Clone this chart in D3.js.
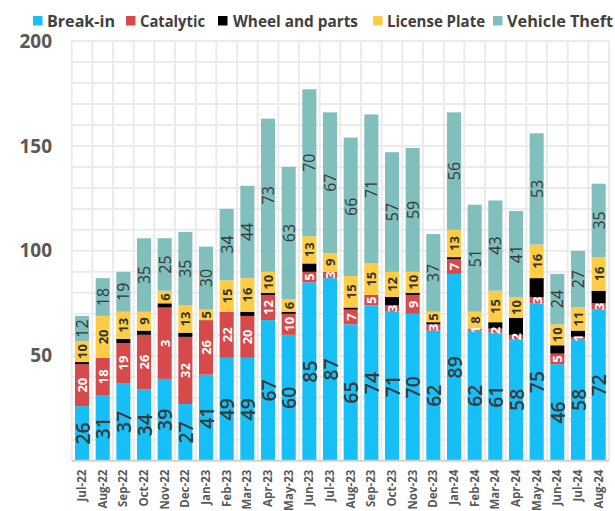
<!DOCTYPE html>
<html>
<head>
<meta charset="utf-8">
<script src="https://cdn.jsdelivr.net/npm/d3@7"></script>
<style>
  html, body { margin: 0; padding: 0; background: #fff; }
  svg { display: block; font-family: "Open Sans", "DejaVu Sans", sans-serif; }
</style>
</head>
<body>
<svg id="chart" width="615" height="511"></svg>
<script>
const months = ["Jul-22","Aug-22","Sep-22","Oct-22","Nov-22","Dec-22","Jan-23","Feb-23","Mar-23","Apr-23","May-23","Jun-23","Jul-23","Aug-23","Sep-23","Oct-23","Nov-23","Dec-23","Jan-24","Feb-24","Mar-24","Apr-24","May-24","Jun-24","Jul-24","Aug-24"];
const breakIn   = [26,31,37,34,39,27,41,49,49,67,60,85,87,65,74,71,70,62,89,62,61,58,75,46,58,72];
const catalytic = [20,18,19,26,34,32,26,22,20,12,10,5,3,7,5,3,9,3,7,1,2,2,3,5,1,3];
const catalyticLabels = ["20","18","19","26","3","32","26","22","20","12","10","5","3","7","5","3","9","3","7","1","2","2","3","5","1","3"];
const wheel     = [1,0,2,2,2,2,0,0,2,1,1,4,0,1,0,4,1,1,1,0,3,8,9,4,3,6];
const license   = [10,20,13,9,6,13,5,15,16,10,6,13,9,15,15,12,10,5,13,8,15,10,16,10,11,16];
const theft     = [12,18,19,35,25,35,30,34,44,73,63,70,67,66,71,57,59,37,56,51,43,41,53,24,27,35];
const seriesNames = ["Break-in","Catalytic","Wheel and parts","License Plate","Vehicle Theft"];
const yTicks = [50,100,150,200];

(function () {
const colors = ["#17bff7","#d64a4b","#000000","#fecd45","#80bfbc"];
const seriesVals = [breakIn, catalytic, wheel, license, theft];
const seriesLabels = [breakIn.map(String), catalyticLabels, null, license.map(String), theft.map(String)];
const labelStyle = [
  {size: 19.5, weight: 600, fill: "#3a3a3a"},
  {size: 13, weight: 700, fill: "#ffffff"},
  null,
  {size: 13, weight: 700, fill: "#333333"},
  {size: 16, weight: 400, fill: "#383838"}
];

const svg = d3.select("#chart");
const pLeft = 71.7, pRight = 609, pTop = 41, pBottom = 460.7;
const x = d3.scaleBand().domain(months).range([pLeft, pRight]).paddingInner(0.32).paddingOuter(0.16);
const y = d3.scaleLinear().domain([0, 200]).range([pBottom, pTop]);

// grid
const grid = svg.append("g");
d3.range(10, 201, 10).forEach(v => {
  grid.append("line").attr("x1", pLeft).attr("x2", pRight).attr("y1", y(v)).attr("y2", y(v))
    .attr("stroke", "#ebebeb").attr("stroke-width", 2);
});
const step = x.step();
const x0 = x.range()[0];
for (let i = 0; i <= months.length; i++) {
  const gx = x0 + i * step;
  grid.append("line").attr("x1", gx).attr("x2", gx).attr("y1", pTop).attr("y2", pBottom)
    .attr("stroke", "#ebebeb").attr("stroke-width", 2);
}

// stacked data
const table = months.map((m, i) => {
  const o = {month: m};
  seriesNames.forEach((s, k) => o[s] = seriesVals[k][i]);
  return o;
});
const stacked = d3.stack().keys(seriesNames)(table);

const barsG = svg.append("g");
stacked.forEach((layer, k) => {
  barsG.selectAll(null).data(layer).join("rect")
    .attr("x", d => x(d.data.month))
    .attr("width", x.bandwidth())
    .attr("y", d => y(d[1]))
    .attr("height", d => Math.max(0, y(d[0]) - y(d[1])))
    .attr("fill", colors[k]);
});

// bottom axis line
svg.append("line").attr("x1", pLeft).attr("x2", pRight).attr("y1", pBottom).attr("y2", pBottom)
  .attr("stroke", "#d0d0d0").attr("stroke-width", 2);

// labels
const labG = svg.append("g");
stacked.forEach((layer, k) => {
  if (!seriesLabels[k]) return;
  const st = labelStyle[k];
  layer.forEach((d, i) => {
    if (seriesVals[k][i] <= 0) return;
    const cx = x(d.data.month) + x.bandwidth() / 2;
    const cy = (y(d[0]) + y(d[1])) / 2;
    labG.append("text")
      .attr("transform", `translate(${cx},${cy}) rotate(-90)`)
      .attr("text-anchor", "middle")
      .attr("dominant-baseline", "central")
      .attr("font-size", st.size)
      .attr("font-weight", st.weight)
      .attr("fill", st.fill)
      .text(seriesLabels[k][i]);
  });
});

// y axis labels
const yAxis = d3.axisLeft(y).tickValues(yTicks).tickSize(0).tickPadding(0);
const yg = svg.append("g").attr("transform", `translate(52,0)`).call(yAxis);
yg.select(".domain").remove();
yg.selectAll("text").attr("font-size", 19).attr("font-weight", 700).attr("fill", "#595959")
  .attr("font-family", "Open Sans, sans-serif");

// x axis labels
const xAxis = d3.axisBottom(x).tickSize(0).tickPadding(0);
const xg = svg.append("g").attr("transform", `translate(0,${pBottom})`).call(xAxis);
xg.select(".domain").remove();
xg.selectAll("text")
  .attr("transform", "rotate(-90)")
  .attr("text-anchor", "end")
  .attr("x", -9).attr("y", 0).attr("dy", "0.35em")
  .attr("font-size", 11.5).attr("font-weight", 700).attr("fill", "#595959")
  .attr("font-family", "Open Sans, sans-serif");

// legend
const legX = [33, 126, 218, 373, 493];
const legText = [47, 140, 233, 387, 507];
const legW = [68, 65, 125, 98, 106];
const lg = svg.append("g");
seriesNames.forEach((s, k) => {
  lg.append("rect").attr("x", legX[k]).attr("y", 16).attr("width", 9.5).attr("height", 9.5).attr("fill", colors[k]);
  lg.append("text").attr("x", legText[k]).attr("y", 21).attr("dy", "0.35em")
    .attr("font-size", 16).attr("font-weight", 700).attr("fill", "#404040")
    .attr("textLength", legW[k]).attr("lengthAdjust", "spacingAndGlyphs")
    .text(s);
});
})();
</script>
</body>
</html>
